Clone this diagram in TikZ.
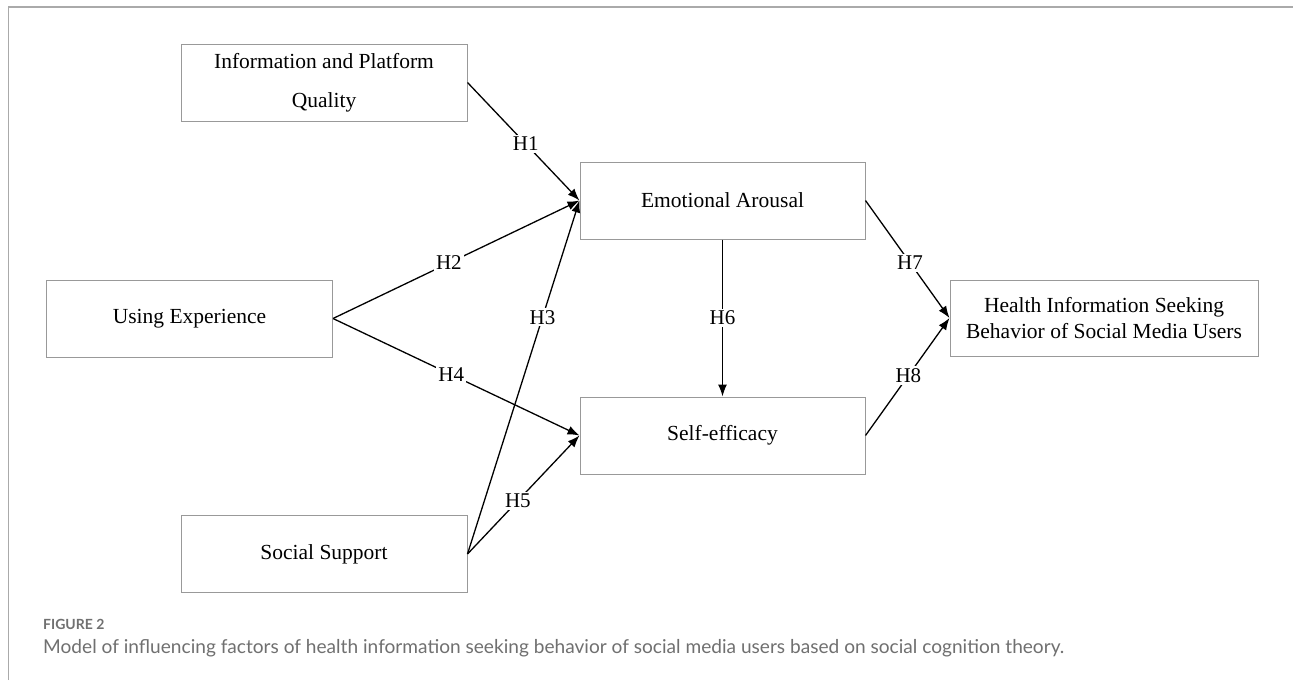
\documentclass[tikz,border=0pt]{standalone}
\usepackage{fontspec}
\setmainfont{Liberation Serif}
\newfontfamily\capfont{Lato}
\usetikzlibrary{arrows.meta}
\definecolor{framegray}{HTML}{AAAAAA}
\definecolor{boxgray}{HTML}{999999}
\definecolor{capgray}{HTML}{707070}
\begin{document}
\begin{tikzpicture}[x=1pt,y=-1pt,
  box/.style={draw=boxgray, line width=1pt, rectangle, minimum width=286pt,
    minimum height=77pt, inner sep=0pt, align=center,
    font=\fontsize{21.5}{26}\selectfont},
  arr/.style={line width=1.3pt, -{Latex[length=12pt,width=9pt]}},
  lab/.style={fill=white, inner sep=2pt, font=\fontsize{21}{24}\selectfont}]
\useasboundingbox (0,0) rectangle (1293,680);
\fill[white] (0,0) rectangle (1293,680);
% panel frame (top and left rules)
\draw[framegray, line width=1.5pt] (8.5,680) -- (8.5,7) -- (1293,7);

% constructs
\node[box, font=\fontsize{21.5}{39}\selectfont] (info) at (324,82.5) {Information and Platform\\Quality};
\node[box] (using) at (189.5,318.5) {Using Experience};
\node[box] (social) at (324,554) {Social Support};
\node[box, minimum width=285pt] (emo) at (722.5,200.5) {Emotional Arousal};
\node[box, minimum width=285pt] (self) at (722.5,435.5) {Self-efficacy};
\node[box, minimum width=308pt, minimum height=76pt] (health) at (1104,318) {Health Information Seeking\\Behavior of Social Media Users};

% hypothesised paths
\draw[arr] (info.east) -- node[lab, pos=0.52] {H1} (emo.west);
\draw[arr] (using.east) -- node[lab, pos=0.47] {H2} (emo.west);
\draw[arr] (social.east) -- node[lab, pos=0.67] {H3} (emo.west);
\draw[arr] (using.east) -- node[lab, pos=0.48] {H4} (self.west);
\draw[arr] (social.east) -- node[lab, pos=0.45] {H5} (self.west);
\draw[arr] (emo.south) -- node[lab, pos=0.5] {H6} (self.north);
\draw[arr] (emo.east) -- node[lab, pos=0.53] {H7} (health.west);
\draw[arr] (self.east) -- node[lab, pos=0.51] {H8} (health.west);

% caption
\node[anchor=base west, inner sep=0pt, text=capgray, font=\capfont\bfseries\fontsize{14}{16}\selectfont] (figlabel) at (43,629) {FIGURE 2};
\node[anchor=base west, inner sep=0pt, text=capgray, font=\capfont\fontsize{19.1}{22}\selectfont] (figcaption) at (43,653) {Model of influencing factors of health information seeking behavior of social media users based on social cognition theory.};
\end{tikzpicture}
\end{document}
